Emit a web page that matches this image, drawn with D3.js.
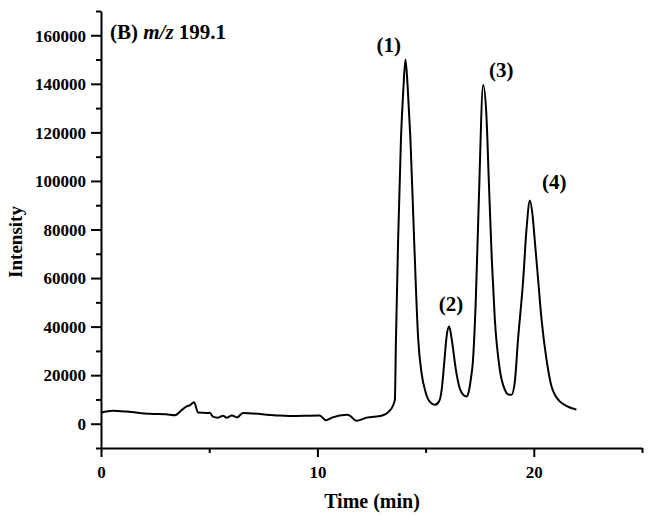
<!DOCTYPE html>
<html>
<head>
<meta charset="utf-8">
<script src="https://cdn.jsdelivr.net/npm/d3@7"></script>
<style>
  body { margin: 0; background: #fff; }
  text { font-family: "Liberation Serif", "Times New Roman", serif; font-weight: bold; }
</style>
</head>
<body>
<svg width="648" height="516"></svg>
<script>
// chromatogram trace
const times = [0, 0.55, 1.2, 2.26, 3.0, 3.42, 3.75, 3.96, 4.12, 4.3, 4.49, 4.88, 5.03, 5.17, 5.4, 5.65, 5.8, 6.05, 6.28, 6.56,
    8.1, 8.7, 10.1, 10.4, 10.7, 11.35, 11.5, 11.8, 12.27, 13.0, 13.3, 13.5, 13.58,
    13.63, 13.73, 13.86, 13.97, 14.07, 14.18, 14.30, 14.47, 14.66, 14.81, 15.0, 15.2, 15.43,
    15.62, 15.75, 15.86, 15.98, 16.09, 16.21, 16.40, 16.58, 16.75, 16.89,
    17.0, 17.1, 17.18, 17.32, 17.46, 17.66, 17.81, 17.92, 18.06, 18.20, 18.43, 18.66, 18.82, 18.97,
    19.12, 19.27, 19.51, 19.66, 19.82, 19.94, 20.05, 20.20, 20.36, 20.59, 20.82, 21.0, 21.20, 21.5, 21.97];
const intensity = [4500, 5300, 5000, 4100, 3900, 3500, 5800, 7100, 7700, 8800, 4600, 4400, 4500, 2900, 2500, 3300, 2500, 3400, 2600, 4400,
    3400, 3200, 3400, 1400, 2600, 3700, 3300, 1200, 2500, 3400, 5000, 7600, 9900,
    34600, 75700, 116900, 137400, 150000, 137400, 116900, 75700, 34600, 21000, 13000, 9000, 7800,
    9200, 14500, 25000, 36600, 40000, 34600, 22200, 14500, 11800, 11200,
    13500, 19000, 25000, 51000, 92200, 139500, 127000, 100400, 67500, 42800, 22200, 14000, 12000, 11900,
    17000, 34600, 59300, 79800, 91900, 86000, 75000, 59300, 42800, 26300, 15300, 11500, 9200, 7400, 5800];

const peakNames = ["(1)", "(2)", "(3)", "(4)"];
const peakLabelT = [13.3, 16.17, 18.5, 20.95];
const peakLabelV = [153000, 46500, 143000, 96500];

const yMajor = [0, 20000, 40000, 60000, 80000, 100000, 120000, 140000, 160000];
const yMinor = [-10000, 10000, 30000, 50000, 70000, 90000, 110000, 130000, 150000, 170000];
const xMajor = [0, 10, 20];
const xMinor = [5, 15, 25];

const svg = d3.select("svg");
const x = d3.scaleLinear().domain([0, 25]).range([101, 642]);
const y = d3.scaleLinear().domain([-10000, 170000]).range([448, 11]);

function styleAxis(g) {
    g.selectAll("path.domain").attr("stroke-width", 2);
    g.selectAll(".tick line").attr("stroke-width", 2);
    g.selectAll(".tick text").attr("font-size", 17).attr("font-family", "Liberation Serif, serif").attr("font-weight", "bold").attr("fill", "#000");
}

// minor ticks
svg.append("g").attr("transform", "translate(101,0)")
    .call(d3.axisLeft(y).tickValues(yMinor).tickSize(5).tickFormat(""))
    .call(g => g.select(".domain").remove())
    .call(styleAxis);
svg.append("g").attr("transform", "translate(0,448)")
    .call(d3.axisBottom(x).tickValues(xMinor).tickSize(5).tickFormat(""))
    .call(g => g.select(".domain").remove())
    .call(styleAxis);

// major ticks + axis lines
svg.append("g").attr("transform", "translate(101,0)")
    .call(d3.axisLeft(y).tickValues(yMajor).tickSize(10).tickSizeOuter(0).tickPadding(5).tickFormat(d3.format("d")))
    .call(styleAxis)
    .call(g => g.selectAll(".tick text").attr("dy", "0.34em"));
svg.append("g").attr("transform", "translate(0,448)")
    .call(d3.axisBottom(x).tickValues(xMajor).tickSize(9).tickSizeOuter(0).tickPadding(9).tickFormat(d3.format("d")))
    .call(styleAxis);

// trace
const pts = times.map((t, i) => [t, intensity[i]]);
svg.append("path")
    .datum(pts)
    .attr("fill", "none")
    .attr("stroke", "#000")
    .attr("stroke-width", 2)
    .attr("stroke-linejoin", "round")
    .attr("d", d3.line().x(d => x(d[0])).y(d => y(d[1])).curve(d3.curveMonotoneX));

// peak labels
svg.selectAll(".peak").data(peakNames).enter().append("text")
    .attr("class", "peak")
    .attr("x", (d, i) => x(peakLabelT[i]))
    .attr("y", (d, i) => y(peakLabelV[i]))
    .attr("text-anchor", "middle")
    .attr("font-size", 21)
    .text(d => d);

// panel title
const title = svg.append("text").attr("x", 110).attr("y", 39).attr("font-size", 21);
title.append("tspan").text("(B) ");
title.append("tspan").attr("font-style", "italic").text("m/z");
title.append("tspan").text(" 199.1");

// axis titles
svg.append("text")
    .attr("x", 372).attr("y", 508)
    .attr("text-anchor", "middle")
    .attr("font-size", 20)
    .text("Time (min)");
svg.append("text")
    .attr("transform", "translate(22,242) rotate(-90)")
    .attr("text-anchor", "middle")
    .attr("font-size", 19)
    .text("Intensity");
</script>
</body>
</html>
